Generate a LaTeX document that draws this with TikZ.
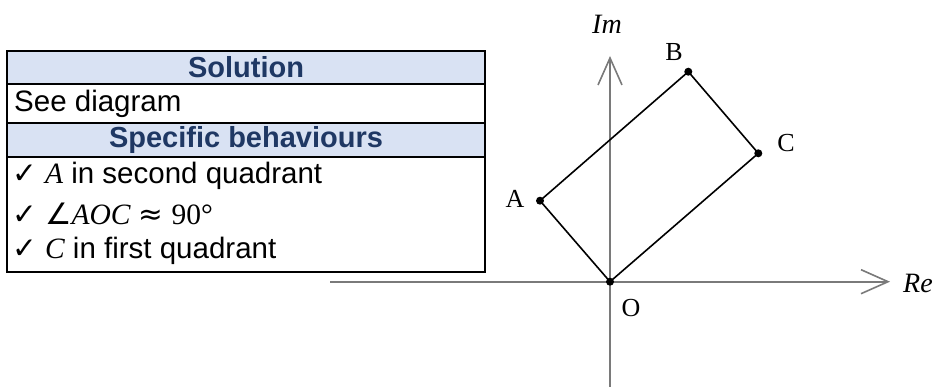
\documentclass[tikz,border=0pt]{standalone}
\usepackage{fontspec}
\setmainfont{Liberation Sans}
\newfontfamily\labfont{Liberation Serif}
\newfontfamily\symfont{DejaVu Sans}
\usetikzlibrary{arrows.meta}
\definecolor{hdrfill}{HTML}{D9E2F3}
\definecolor{hdrtext}{HTML}{1F3864}
\definecolor{axisgray}{HTML}{7A7A7A}
\newcommand{\mi}[1]{{\labfont\itshape #1}}
\newcommand{\ck}{{\symfont ✓}}
\begin{document}
\begin{tikzpicture}[x=1pt,y=-1pt,
  hdr/.style={font=\fontsize{29}{31}\selectfont\bfseries, text=hdrtext, anchor=center, inner sep=0pt},
  cell/.style={font=\fontsize{29.5}{31}\selectfont, anchor=west, inner sep=0pt},
  lab/.style={font=\fontsize{26}{28}\selectfont\labfont, inner sep=0pt},
  axlab/.style={font=\fontsize{28}{30}\selectfont\labfont\itshape, inner sep=0pt},
  axis/.style={draw=axisgray, line width=1.6pt, -{Straight Barb[length=27pt,width=24pt]}},
  edge/.style={draw=black, line width=1.6pt},
  dot/.style={circle, fill=black, inner sep=0pt, minimum size=8pt},
  rule/.style={line width=2pt}]
\useasboundingbox (0,0) rectangle (936,387);
% table
\fill[hdrfill] (7,51) rectangle (485,84);
\fill[hdrfill] (7,123) rectangle (485,157);
\draw[rule] (7,84) -- (485,84);
\draw[rule] (7,123) -- (485,123);
\draw[rule] (7,157) -- (485,157);
\draw[rule] (7,51) rectangle (485,272);
\node[hdr] (h1) at (246,67.5) {Solution};
\node[cell] (r1) at (14,103.5) {See diagram};
\node[hdr] (h2) at (246,140) {Specific behaviours};
\node[cell] (i1) at (12,176) {\ck\ \mi{A} in second quadrant};
\node[cell] (i2) at (12,214) {\ck\ {\symfont ∠}\mi{AOC} {\symfont ≈} {\labfont 90°}};
\node[cell] (i3) at (12,251) {\ck\ \mi{C} in first quadrant};
% axes
\coordinate (imBot) at (610,387);
\coordinate (imTop) at (610,56);
\coordinate (reL) at (330,281.7);
\coordinate (reR) at (890,281.7);
\draw[axis] (imBot) -- (imTop);
\draw[axis] (reL) -- (reR);
% points
\node[dot] (O) at (610,281.7) {};
\node[dot] (A) at (540,200.7) {};
\node[dot] (B) at (688.3,71.7) {};
\node[dot] (C) at (758.3,153.3) {};
\draw[edge] (O.center) -- (A.center) -- (B.center) -- (C.center) -- cycle;
% labels
\node[axlab] (lIm) at (607,24) {Im};
\node[lab] (lB) at (674,52) {B};
\node[lab] (lC) at (786,143) {C};
\node[lab] (lA) at (515,199) {A};
\node[lab] (lO) at (631,308) {O};
\node[axlab, anchor=west] (lRe) at (903,283) {Re};
\end{tikzpicture}
\end{document}
